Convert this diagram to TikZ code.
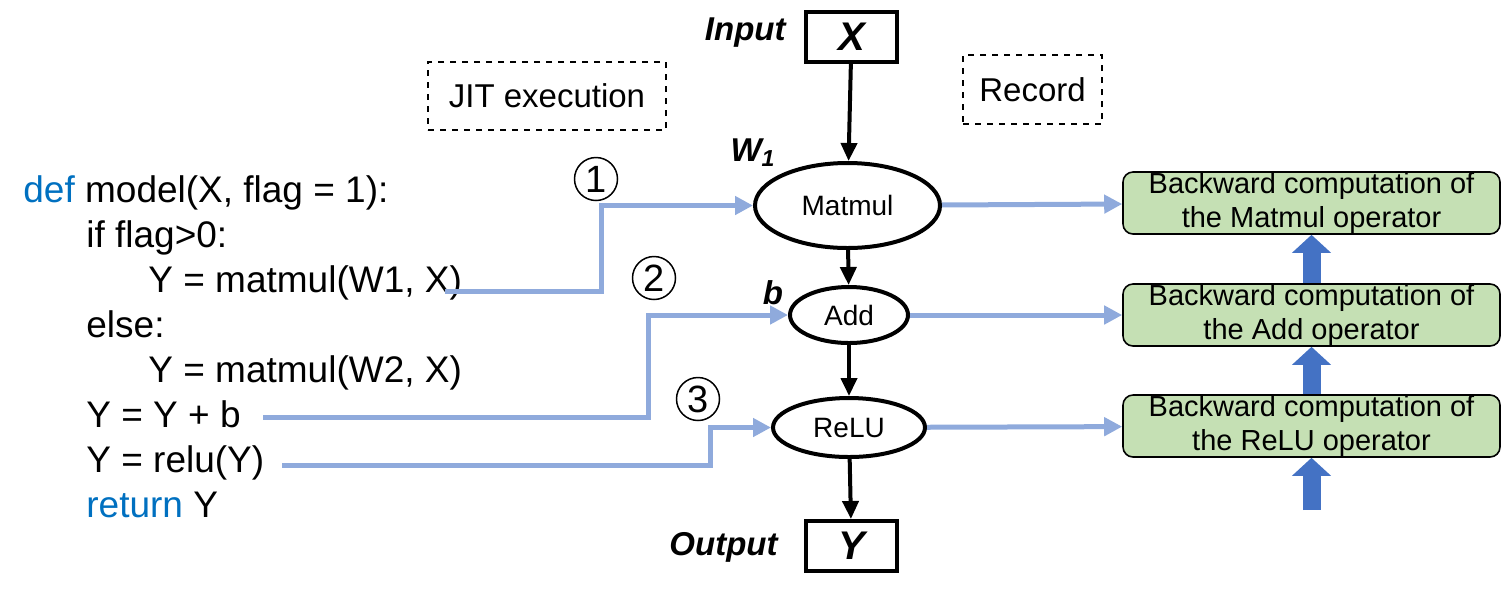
\documentclass[tikz,border=0pt]{standalone}
\usepackage{fontspec}
\setmainfont{Liberation Sans}
\usetikzlibrary{arrows.meta,positioning,shapes.geometric}
\definecolor{JTkw}{RGB}{0,112,192}
\definecolor{JTlink}{RGB}{143,170,220}
\definecolor{JTblock}{RGB}{68,114,196}
\definecolor{JTgreen}{RGB}{197,224,180}
\tikzset{
  code/.style={anchor=base west,inner sep=0pt,font=\fontsize{18.5}{22}\selectfont},
  op/.style={ellipse,draw,line width=2pt,inner sep=0pt,font=\fontsize{14}{16}\selectfont},
  tensor/.style={draw,line width=2pt,minimum width=45.5pt,minimum height=25pt,
                 inner sep=0pt,font=\fontsize{20}{22}\selectfont\bfseries\itshape},
  tag/.style={inner sep=0pt,font=\fontsize{16.5}{18}\selectfont\bfseries\itshape},
  phase/.style={draw,dashed,line width=0.6pt,inner sep=0pt,font=\fontsize{16.5}{18}\selectfont},
  bwd/.style={draw,rounded corners=5pt,line width=0.8pt,fill=JTgreen,align=center,
              minimum width=188.5pt,minimum height=31pt,inner sep=0pt,
              font=\fontsize{14.5}{17}\selectfont},
  step num/.style={circle,draw,line width=0.75pt,minimum size=21.5pt,inner sep=0pt,
                   font=\fontsize{19}{21}\selectfont},
  fw/.style={-{Triangle[length=9pt,width=8pt]},line width=2pt},
  jit/.style={-{Triangle[length=9pt,width=9pt]},line width=2.5pt,draw=JTlink},
  blk/.style={-{Triangle[length=9pt,width=19pt]},line width=9pt,draw=JTblock}
}
\begin{document}
\begin{tikzpicture}[x=0.5pt,y=-0.5pt]
  \useasboundingbox (0,0) rectangle (1502,601);
  % program
  \node[code] (l1) at (23,202) {\textcolor{JTkw}{def} model(X, flag = 1):};
  \node[code] (l2) at (86,247) {if flag>0:};
  \node[code] (l3) at (148,292) {Y = matmul(W1, X)};
  \node[code] (l4) at (86,337) {else:};
  \node[code] (l5) at (148,382) {Y = matmul(W2, X)};
  \node[code] (l6) at (86,427) {Y = Y + b};
  \node[code] (l7) at (86,472) {Y = relu(Y)};
  \node[code] (l8) at (86,517) {\textcolor{JTkw}{return} Y};
  % phases
  \node[phase,minimum width=119pt,minimum height=34pt] (jitbox) at (547,96) {JIT execution};
  \node[phase,minimum width=69.5pt,minimum height=34.5pt] (recbox) at (1032.5,89.5) {Record};
  % forward graph
  \node[tensor] (x) at (851.5,37) {X};
  \node[tag,anchor=east] (xin) at (786,33) {Input};
  \node[op,minimum width=92.5pt,minimum height=42.5pt] (matmul) at (847.5,205.5) {Matmul};
  \node[op,minimum width=59pt,minimum height=28pt] (add) at (849,315) {Add};
  \node[op,minimum width=76pt,minimum height=29.5pt] (relu) at (849,427.5) {ReLU};
  \node[tensor] (y) at (851.5,546) {Y};
  \node[tag,anchor=east] (yout) at (778,547) {Output};
  \node[tag] (w1) at (753,153) {W\textsubscript{1}};
  \node[tag] (bias) at (773,293) {b};
  \draw[fw] (x) -- (matmul);
  \draw[fw] (matmul) -- (add);
  \draw[fw] (add) -- (relu);
  \draw[fw] (relu) -- (y);
  % backward records
  \node[bwd] (bmat) at (1311.5,203) {Backward computation of\\the Matmul operator};
  \node[bwd] (badd) at (1311.5,315) {Backward computation of\\the Add operator};
  \node[bwd] (brelu) at (1311.5,426) {Backward computation of\\the ReLU operator};
  \draw[jit] (matmul) -- (bmat);
  \draw[jit] (add) -- (badd);
  \draw[jit] (relu) -- (brelu);
  \coordinate (grad) at (1311.5,510);
  \draw[blk] (grad) -- (brelu);
  \draw[blk] (brelu) -- (badd);
  \draw[blk] (badd) -- (bmat);
  % JIT links
  \coordinate (c1) at (445,291);
  \coordinate (c2) at (263,417);
  \coordinate (c3) at (282,465);
  \draw[jit] (c1) -- ++(156,0) |- (matmul.west);
  \draw[jit] (c2) -- ++(385,0) |- (add.west);
  \draw[jit] (c3) -- ++(428,0) |- (relu.west);
  \node[step num] (n1) at (596,179) {1};
  \node[step num] (n2) at (654,278) {2};
  \node[step num] (n3) at (698,399) {3};
\end{tikzpicture}
\end{document}
